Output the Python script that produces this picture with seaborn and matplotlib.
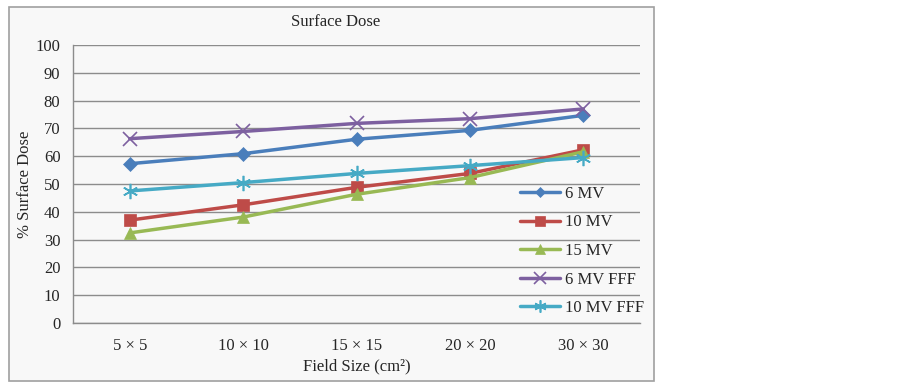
import matplotlib
matplotlib.use("Agg")
import matplotlib.pyplot as plt
import seaborn as sns
import pandas as pd
from matplotlib.patches import Rectangle

categories = ["5 × 5", "10 × 10", "15 × 15", "20 × 20", "30 × 30"]
mv6 = [57.3, 60.9, 66.1, 69.3, 74.7]
mv10 = [37.0, 42.5, 48.8, 53.8, 62.3]
mv15 = [32.4, 38.1, 46.3, 52.3, 61.6]
mv6_fff = [66.3, 68.9, 71.8, 73.5, 77.0]
mv10_fff = [47.5, 50.5, 53.8, 56.6, 59.5]
series_names = ["6 MV", "10 MV", "15 MV", "6 MV FFF", "10 MV FFF"]
series_values = [mv6, mv10, mv15, mv6_fff, mv10_fff]
y_ticks = [0, 10, 20, 30, 40, 50, 60, 70, 80, 90, 100]

colors = ["#4a7ebb", "#be4b48", "#98b954", "#7d60a0", "#46aac5"]
markers = ["D", "s", "^", "x", (6, 2, 0)]
msizes = [7, 9, 9, 10, 11]

sns.set_style("white")
plt.rcParams["font.family"] = ["Liberation Serif", "DejaVu Serif"]

fig = plt.figure(figsize=(9.03, 3.86), dpi=100)
fig.patch.set_facecolor("white")
frame = Rectangle((9 / 903, 1 - 381 / 386), (654 - 9) / 903, (381 - 7) / 386,
                  transform=fig.transFigure, facecolor="#f8f8f8",
                  edgecolor="#a0a0a0", linewidth=1.2, zorder=-10)
fig.patches.append(frame)

ax = fig.add_axes([73 / 903, 1 - 323 / 386, (640 - 73) / 903, (323 - 45) / 386])
ax.set_facecolor("none")
ax.set_zorder(1)

rows = []
for name, vals in zip(series_names, series_values):
    for i, v in enumerate(vals):
        rows.append({"pos": i, "val": v, "series": name})
df = pd.DataFrame(rows)

for name, c, m, ms in zip(series_names, colors, markers, msizes):
    sub = df[df["series"] == name]
    sns.lineplot(data=sub, x="pos", y="val", ax=ax, color=c, linewidth=2.5,
                 marker=m, markersize=ms, markeredgecolor=c,
                 markeredgewidth=1.2 if m in ("x", (6, 2, 0)) else 0.5,
                 label=name, zorder=3)

ax.set_xlim(-0.5, 4.5)
ax.set_ylim(0, 100)
ax.set_yticks(y_ticks)
ax.set_xticks(range(len(categories)))
ax.set_xticklabels(categories)
ax.yaxis.grid(True, color="#8c8c8c", linewidth=1.0)
ax.set_axisbelow(True)
for s in ["top", "right"]:
    ax.spines[s].set_visible(False)
for s in ["left", "bottom"]:
    ax.spines[s].set_color("#8c8c8c")
    ax.spines[s].set_linewidth(1.0)
ax.tick_params(axis="y", length=0, labelsize=12, pad=9)
ax.tick_params(axis="x", length=0, labelsize=12, pad=11)

ax.set_xlabel("Field Size (cm²)", fontsize=12, labelpad=3)
ax.set_ylabel("% Surface Dose", fontsize=12, labelpad=2)
fig.text(336 / 903, 1 - 22 / 386, "Surface Dose", ha="center", va="center", fontsize=12)

ax.legend(loc="upper left", bbox_to_anchor=(520 / 903, 1 - 186 / 386),
          bbox_transform=fig.transFigure, frameon=False, fontsize=12,
          borderpad=0, borderaxespad=0, labelspacing=0.75,
          handlelength=2.4, handletextpad=0.3, markerscale=0.8)

fig.savefig("out.png", dpi=100, facecolor="white")
